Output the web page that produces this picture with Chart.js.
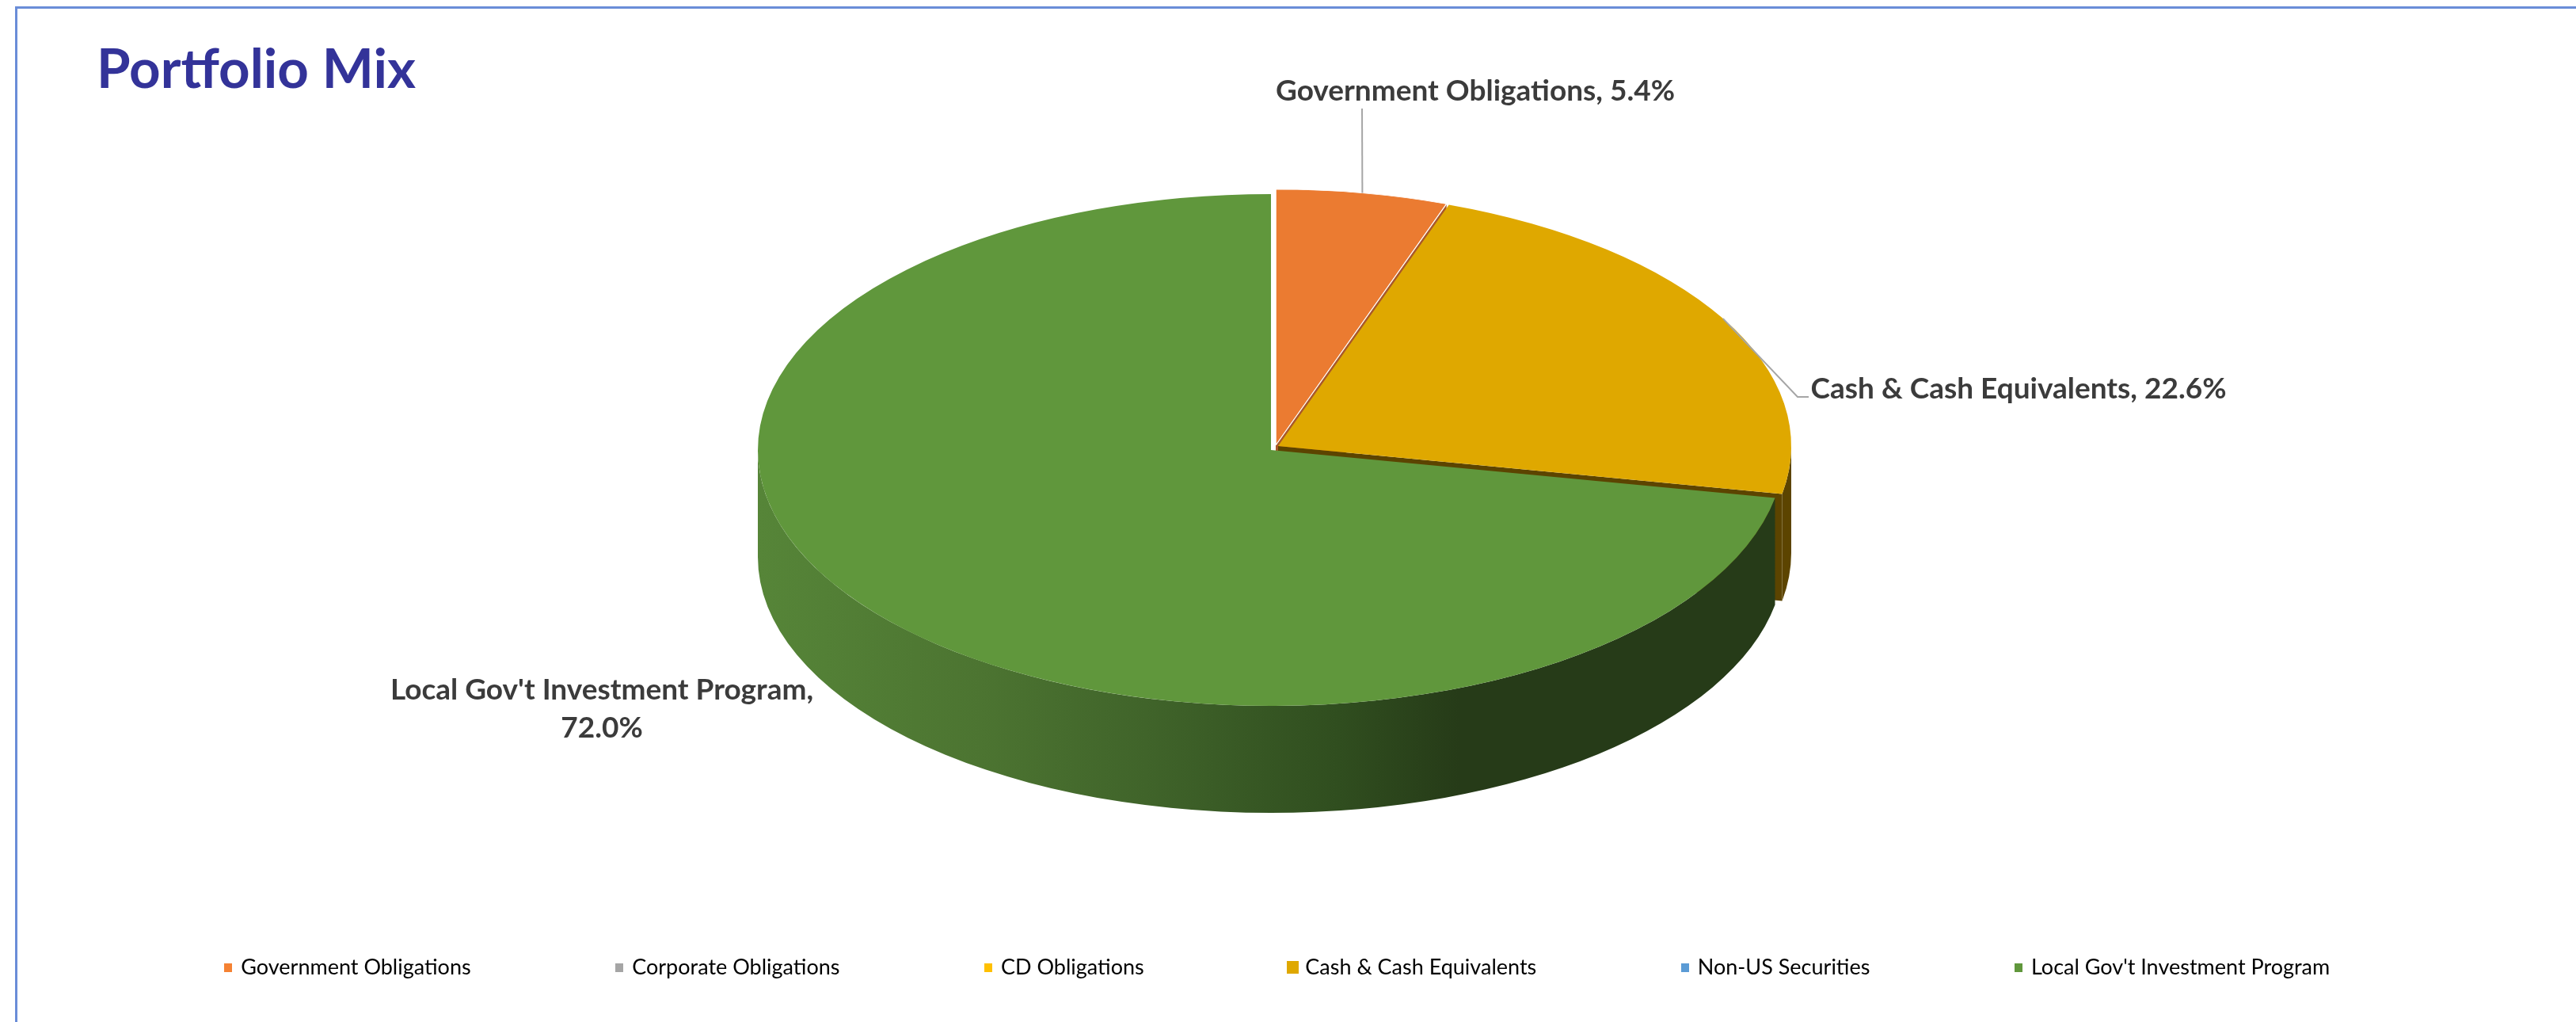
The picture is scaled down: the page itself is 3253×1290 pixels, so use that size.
<!DOCTYPE html>
<html lang="en">
<head>
<meta charset="UTF-8">
<title>Portfolio Mix</title>
<script src="https://cdn.jsdelivr.net/npm/chart.js"></script>
<style>
    html, body { margin: 0; background: #fff; }
    #wrap { position: relative; width: 3253px; height: 1290px; overflow: hidden; }
    #frame {
        position: absolute; left: 19px; top: 8px; right: -4px; height: 1279px;
        border: 3px solid #6a8dd8; border-bottom-color: #93abdf;
    }
    #chart { position: absolute; left: 0; top: 0; }
</style>
</head>
<body>
<div id="wrap">
    <div id="frame"></div>
    <canvas id="chart" width="3253" height="1290"></canvas>
</div>
<script>
const categories = ['Government Obligations', 'Corporate Obligations', 'CD Obligations',
    'Cash & Cash Equivalents', 'Non-US Securities', "Local Gov't Investment Program"];
const percentages = [5.4, 0, 0, 22.6, 0, 72.0];

const sliceColors = ['#eb7b31', '#a5a5a5', '#ffc000', '#dfa800', '#5b9bd5', '#60973c'];
const legendColors = ['#f58233', '#a5a5a5', '#ffc000', '#dfa800', '#5b9bd5', '#60973c'];
const legendBoxes = [[10, 11], [10, 11], [10, 11], [15, 16], [10, 11], [10, 11]];
const wallColors = ['#a9582a', null, null, '#5c4400', null, null];

// how far each slice is pulled off the center, in screen pixels
const sliceNudge = [[-3, -6], [0, 0], [0, 0], [0, -5], [0, 0], [-9, 0]];

// text anchors and leader bends for the value labels
const labelBreaks = [false, false, false, false, false, true];
const labelAnchors = [[1863, 115], null, null, [2549, 491], null, [760, 871]];
const leaderBends = [[[1720, 137]], null, null, [[2270, 501], [2284, 501]], null, null];

const SQUASH = 0.4985;   // flattening of the pie into an ellipse
const DEPTH = 135;       // height of the side wall
const PIE_RADIUS = 648;
const TEXT_DARK = '#3b3b3b';
const TITLE_LEFT = 122;

function makeSwatch(color, w, h) {
    const c = document.createElement('canvas');
    c.width = w;
    c.height = h;
    const g = c.getContext('2d');
    g.fillStyle = color;
    g.fillRect(0, 0, w, h);
    return c;
}

function sliceLabel(i) {
    const value = percentages[i].toFixed(1) + '%';
    if (labelBreaks[i]) return [categories[i] + ',', value];
    return [categories[i] + ', ' + value];
}

// point on the rim of a slice, in screen space
function rimPoint(arc, angle, cy) {
    return {
        x: arc.x + Math.cos(angle) * arc.outerRadius,
        y: cy + (arc.y - cy + Math.sin(angle) * arc.outerRadius) * SQUASH
    };
}

function sideGradient(ctx) {
    const g = ctx.createLinearGradient(958, 0, 2241, 0);
    g.addColorStop(0, '#568538');
    g.addColorStop(0.22, '#4c7431');
    g.addColorStop(0.38, '#40642a');
    g.addColorStop(0.57, '#304e1f');
    g.addColorStop(0.69, '#263b18');
    g.addColorStop(1, '#263b18');
    return g;
}

const pie3d = {
    id: 'pie3d',
    afterLayout(chart) {
        chart.titleBlock.left = TITLE_LEFT;
    },
    afterDatasetsUpdate(chart) {
        const cy = (chart.chartArea.top + chart.chartArea.bottom) / 2;
        chart._pieCy = cy;
        chart.getDatasetMeta(0).data.forEach((arc, i) => {
            arc.x += sliceNudge[i][0];
            arc.y += sliceNudge[i][1] / SQUASH;
        });
    },
    beforeDatasetsDraw(chart) {
        const ctx = chart.ctx;
        const cy = chart._pieCy;
        const arcs = chart.getDatasetMeta(0).data;

        // walls go first, the flat slices are painted over them
        arcs.forEach((arc, i) => {
            if (percentages[i] === 0) return;
            const cx = arc.x;
            const midY = cy + (arc.y - cy) * SQUASH;
            const rx = arc.outerRadius;
            const ry = rx * SQUASH;
            const fill = wallColors[i] || sideGradient(ctx);
            ctx.fillStyle = fill;

            // cut face along the trailing edge of the slice
            if (wallColors[i]) {
                const corner = rimPoint(arc, arc.endAngle, cy);
                ctx.beginPath();
                ctx.moveTo(cx, midY);
                ctx.lineTo(corner.x, corner.y);
                ctx.lineTo(corner.x, corner.y + DEPTH);
                ctx.lineTo(cx, midY + DEPTH);
                ctx.closePath();
                ctx.fill();
            }

            // outer wall, only the front half of the rim can be seen
            const a0 = Math.max(arc.startAngle, 0);
            const a1 = Math.min(arc.endAngle, Math.PI);
            if (a1 > a0) {
                ctx.beginPath();
                ctx.ellipse(cx, midY, rx, ry, 0, a0, a1);
                ctx.ellipse(cx, midY + DEPTH, rx, ry, 0, a1, a0, true);
                ctx.closePath();
                ctx.fill();
            }
        });

        ctx.save();
        ctx.translate(0, cy * (1 - SQUASH));
        ctx.scale(1, SQUASH);
    },
    afterDatasetsDraw(chart) {
        chart.ctx.restore();
    },
    afterDraw(chart) {
        const ctx = chart.ctx;
        const arcs = chart.getDatasetMeta(0).data;
        ctx.save();
        arcs.forEach((arc, i) => {
            if (leaderBends[i]) {
                const start = rimPoint(arc, (arc.startAngle + arc.endAngle) / 2, chart._pieCy);
                ctx.strokeStyle = '#a6a6a6';
                ctx.lineWidth = 2;
                ctx.beginPath();
                ctx.moveTo(start.x, start.y);
                leaderBends[i].forEach(p => ctx.lineTo(p[0], p[1]));
                ctx.stroke();
            }
            if (labelAnchors[i]) {
                ctx.font = 'bold 37px Lato';
                ctx.fillStyle = TEXT_DARK;
                ctx.textAlign = 'center';
                ctx.textBaseline = 'middle';
                sliceLabel(i).forEach((line, k) => {
                    ctx.fillText(line, labelAnchors[i][0], labelAnchors[i][1] + k * 48);
                });
            }
        });
        ctx.restore();
    }
};

new Chart(document.getElementById('chart'), {
    type: 'pie',
    data: {
        labels: categories,
        datasets: [{
            data: percentages,
            backgroundColor: sliceColors,
            borderColor: '#ffffff',
            borderWidth: [1.5, 0, 0, 0, 0, 0],
            radius: PIE_RADIUS,
            clip: false
        }]
    },
    options: {
        responsive: false,
        animation: false,
        layout: { padding: { left: 0, right: 25, top: 0, bottom: 45.5 } },
        plugins: {
            tooltip: { enabled: false },
            title: {
                display: true,
                text: 'Portfolio Mix',
                align: 'start',
                color: '#333399',
                font: { family: 'Lato', size: 69, weight: 'bold' },
                padding: { top: 47, bottom: -16.3 }
            },
            legend: {
                position: 'bottom',
                labels: {
                    color: TEXT_DARK,
                    font: { family: 'Lato', size: 27 },
                    padding: 185,
                    usePointStyle: true,
                    pointStyleWidth: 5,
                    generateLabels() {
                        return categories.map((name, i) => ({
                            text: name,
                            fillStyle: legendColors[i],
                            strokeStyle: legendColors[i],
                            lineWidth: 0,
                            hidden: false,
                            index: i,
                            pointStyle: makeSwatch(legendColors[i], legendBoxes[i][0], legendBoxes[i][1])
                        }));
                    }
                }
            }
        }
    },
    plugins: [pie3d]
});
</script>
</body>
</html>
